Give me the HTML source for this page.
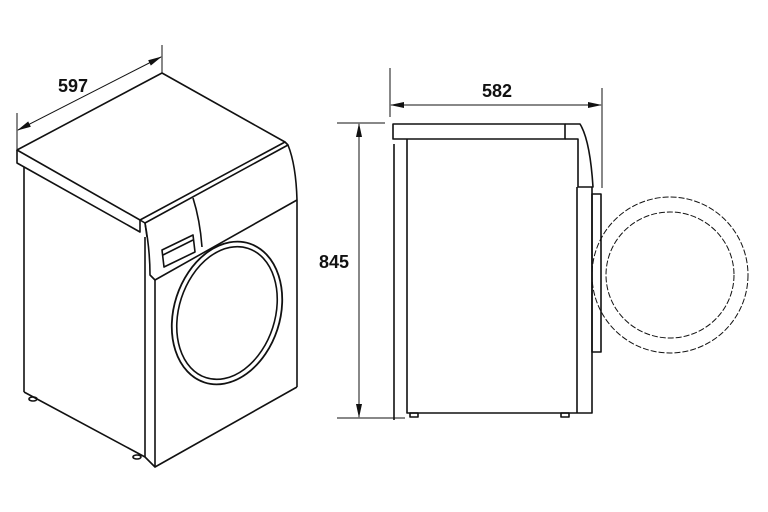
<!DOCTYPE html>
<html><head><style>html,body{margin:0;padding:0;background:#fff;width:768px;height:512px;overflow:hidden}</style></head>
<body>
<svg width="768" height="512" viewBox="0 0 768 512" xmlns="http://www.w3.org/2000/svg" fill="none" stroke="#111" stroke-width="1.6" stroke-linejoin="round">
<defs><marker id="a" markerWidth="14" markerHeight="6" refX="13" refY="3" orient="auto-start-reverse" markerUnits="userSpaceOnUse"><path d="M0,0 L14,3 L0,6z" fill="#111" stroke="none"/></marker></defs>
<!-- left isometric -->
<g>
<line x1="17" y1="113" x2="17" y2="150" stroke-width="1"/>
<line x1="162" y1="45" x2="162" y2="73" stroke-width="1"/>
<line x1="18" y1="130" x2="161" y2="57" stroke-width="1" marker-start="url(#a)" marker-end="url(#a)"/>
<text x="73" y="92" font-family="Liberation Sans, sans-serif" font-size="18" font-weight="bold" fill="#111" stroke="none" text-anchor="middle">597</text>
<path d="M17,150 L162,73 L285,142 L140,220 Z"/>
<path d="M17,150 L17,163 L140,232 L140,220"/>
<path d="M145,223 L288,145"/>
<path d="M140,220 L145,223 L147,237"/>
<path d="M285,142 L288,145 Q296,165 297,200"/>
<path d="M145,223 Q150,250 150,275 L155,280"/>
<path d="M155,280 L297,200"/>
<path d="M193,198 Q200,220 202,247"/>
<path d="M162,250 L193,235 L195,252 L164,267 Z"/>
<path d="M163,255 L193,240"/>
<line x1="24" y1="167" x2="24" y2="392"/>
<line x1="145" y1="237" x2="145" y2="457"/>
<line x1="155" y1="280" x2="155" y2="467"/>
<line x1="297" y1="200" x2="297" y2="387"/>
<path d="M24,392 L145,457 L155,467 L297,387"/>
<ellipse cx="227" cy="313" rx="53" ry="73" transform="rotate(18 227 313)" stroke-width="1.8"/>
<ellipse cx="227" cy="313" rx="48" ry="68" transform="rotate(18 227 313)"/>
<ellipse cx="33" cy="399" rx="4" ry="2"/>
<ellipse cx="137" cy="457" rx="4" ry="2"/>
</g>
<!-- right side view -->
<g>
<line x1="390" y1="68" x2="390" y2="117" stroke-width="1"/>
<line x1="602" y1="88" x2="602" y2="188" stroke-width="1"/>
<line x1="391" y1="105" x2="601" y2="105" stroke-width="1" marker-start="url(#a)" marker-end="url(#a)"/>
<text x="497" y="97" font-family="Liberation Sans, sans-serif" font-size="18" font-weight="bold" fill="#111" stroke="none" text-anchor="middle">582</text>
<line x1="337" y1="123" x2="385" y2="123" stroke-width="1"/>
<line x1="337" y1="418" x2="405" y2="418" stroke-width="1"/>
<line x1="359" y1="124" x2="359" y2="417" stroke-width="1" marker-start="url(#a)" marker-end="url(#a)"/>
<text x="334" y="268" font-family="Liberation Sans, sans-serif" font-size="18" font-weight="bold" fill="#111" stroke="none" text-anchor="middle">845</text>
<rect x="393" y="124" width="172" height="15"/>
<path d="M565,124 L580,124 Q590,140 593,187 L578,187 L578,139 L565,139"/>
<line x1="394" y1="144" x2="394" y2="420"/>
<path d="M407,139 L407,413 L592,413 L592,187"/>
<line x1="577" y1="187" x2="577" y2="413"/>
<rect x="592" y="194" width="9" height="158"/>
<rect x="410" y="413" width="8" height="4"/>
<rect x="561" y="413" width="8" height="4"/>
<ellipse cx="670" cy="275" rx="78" ry="78" stroke-dasharray="6 2" stroke-width="1"/>
<ellipse cx="670" cy="275" rx="64" ry="63" stroke-dasharray="6 2" stroke-width="1"/>
</g>
</svg>
</body></html>
